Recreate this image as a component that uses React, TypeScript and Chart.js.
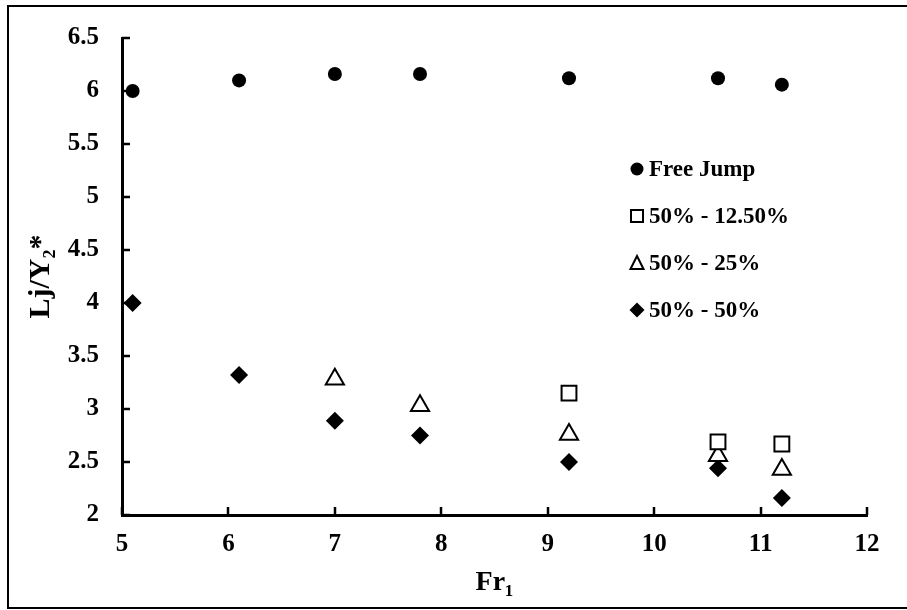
import React, { useEffect, useRef } from "react";
import { Chart, registerables } from "chart.js";

Chart.register(...registerables);

const xValues = [5.1, 6.1, 7, 7.8, 9.2, 10.6, 11.2];
const freeJump = [6.0, 6.1, 6.16, 6.16, 6.12, 6.12, 6.06];
const x125 = [9.2, 10.6, 11.2];
const s125 = [3.15, 2.69, 2.67];
const x25 = [7, 7.8, 9.2, 10.6, 11.2];
const s25 = [3.28, 3.03, 2.76, 2.56, 2.43];
const s50 = [4.0, 3.32, 2.89, 2.75, 2.5, 2.44, 2.16];
const seriesLabels = ["Free Jump", "50% - 12.50%", "50% - 25%", "50% - 50%"];
const xTitle = "Fr\u2081";
const yTitle = "Lj/Y\u2082*";

const FONT = "'Liberation Serif', 'Times New Roman', serif";

const framePlugin = {
  id: "frame",
  afterDraw(chart: any) {
    const { ctx, chartArea, scales } = chart;
    ctx.save();
    ctx.strokeStyle = "#000";
    ctx.lineWidth = 2;
    ctx.strokeRect(8, 6, 910, 602);
    ctx.lineWidth = 2.5;
    const ys = scales.y;
    ys.ticks.forEach((t: any) => {
      const p = Math.round(ys.getPixelForValue(t.value));
      ctx.beginPath();
      ctx.moveTo(chartArea.left, p);
      ctx.lineTo(chartArea.left + 8, p);
      ctx.stroke();
    });
    const xs = scales.x;
    xs.ticks.forEach((t: any) => {
      const p = Math.round(xs.getPixelForValue(t.value));
      ctx.beginPath();
      ctx.moveTo(p, chartArea.bottom);
      ctx.lineTo(p, chartArea.bottom - 8);
      ctx.stroke();
    });
    const lx = 637;
    const tx = 649;
    const y0 = 169;
    const dy = 47;
    ctx.font = `bold 23px ${FONT}`;
    ctx.textBaseline = "middle";
    ctx.textAlign = "left";
    seriesLabels.forEach((lab, i) => {
      const cy = y0 + i * dy;
      ctx.lineWidth = 2;
      ctx.strokeStyle = "#000";
      ctx.fillStyle = "#000";
      ctx.beginPath();
      if (i === 0) {
        ctx.arc(lx, cy, 6.5, 0, Math.PI * 2);
        ctx.fill();
      } else if (i === 1) {
        ctx.fillStyle = "#fff";
        ctx.rect(lx - 6, cy - 6, 12, 12);
        ctx.fill();
        ctx.stroke();
      } else if (i === 2) {
        ctx.fillStyle = "#fff";
        ctx.moveTo(lx, cy - 7);
        ctx.lineTo(lx + 6.5, cy + 6);
        ctx.lineTo(lx - 6.5, cy + 6);
        ctx.closePath();
        ctx.fill();
        ctx.stroke();
      } else {
        ctx.moveTo(lx, cy - 7.5);
        ctx.lineTo(lx + 7.5, cy);
        ctx.lineTo(lx, cy + 7.5);
        ctx.lineTo(lx - 7.5, cy);
        ctx.closePath();
        ctx.fill();
      }
      ctx.fillStyle = "#000";
      ctx.fillText(lab, tx, cy + 1);
    });
    ctx.restore();
  },
};

export default function App() {
  const ref = useRef<HTMLCanvasElement | null>(null);
  useEffect(() => {
    if (!ref.current) return;
    Chart.defaults.color = "#000";
    const chart = new Chart(ref.current, {
      type: "scatter",
      data: {
        datasets: [
          {
            label: seriesLabels[0],
            data: xValues.map((x, i) => ({ x, y: freeJump[i] })),
            pointStyle: "circle",
            pointRadius: 7,
            pointBackgroundColor: "#000",
            pointBorderColor: "#000",
            pointBorderWidth: 0,
          },
          {
            label: seriesLabels[1],
            data: x125.map((x, i) => ({ x, y: s125[i] })),
            pointStyle: "rect",
            pointRadius: 10.5,
            pointBackgroundColor: "#fff",
            pointBorderColor: "#000",
            pointBorderWidth: 2,
          },
          {
            label: seriesLabels[2],
            data: x25.map((x, i) => ({ x, y: s25[i] })),
            pointStyle: "triangle",
            pointRadius: 10.5,
            pointBackgroundColor: "#fff",
            pointBorderColor: "#000",
            pointBorderWidth: 2,
          },
          {
            label: seriesLabels[3],
            data: xValues.map((x, i) => ({ x, y: s50[i] })),
            pointStyle: "rectRot",
            pointRadius: 9,
            pointBackgroundColor: "#000",
            pointBorderColor: "#000",
            pointBorderWidth: 0,
          },
        ],
      },
      options: {
        responsive: false,
        animation: false,
        devicePixelRatio: 1,
        layout: { padding: { left: 0, top: 36, right: 40, bottom: 0 } },
        plugins: { legend: { display: false }, tooltip: { enabled: false } },
        scales: {
          x: {
            type: "linear",
            min: 5,
            max: 12,
            ticks: {
              stepSize: 1,
              padding: 15,
              font: { family: FONT, size: 25, weight: "bold" },
              color: "#000",
              callback: (v: any) => String(v),
            },
            grid: { display: false, drawTicks: false },
            border: { display: true, color: "#000", width: 3 },
            title: {
              display: true,
              text: xTitle,
              font: { family: FONT, size: 28, weight: "bold" },
              color: "#000",
              padding: { top: 0, bottom: 10 },
            },
            afterFit: (s: any) => {
              s.height = 95;
            },
          },
          y: {
            type: "linear",
            min: 2,
            max: 6.5,
            ticks: {
              stepSize: 0.5,
              padding: 23,
              font: { family: FONT, size: 25, weight: "bold" },
              color: "#000",
              callback: (v: any) => String(v),
            },
            grid: { display: false, drawTicks: false },
            border: { display: true, color: "#000", width: 3 },
            title: {
              display: true,
              text: yTitle,
              font: { family: FONT, size: 30, weight: "bold" },
              color: "#000",
              padding: { top: 23, bottom: 0 },
            },
            afterFit: (s: any) => {
              s.width = 122;
            },
          },
        },
      },
      plugins: [framePlugin],
    } as any);
    return () => chart.destroy();
  }, []);
  return (
    <div style={{ position: "absolute", left: 0, top: 0, width: 907, height: 610, background: "#fff" }}>
      <canvas ref={ref} width={907} height={610} style={{ display: "block", width: 907, height: 610 }} />
    </div>
  );
}
